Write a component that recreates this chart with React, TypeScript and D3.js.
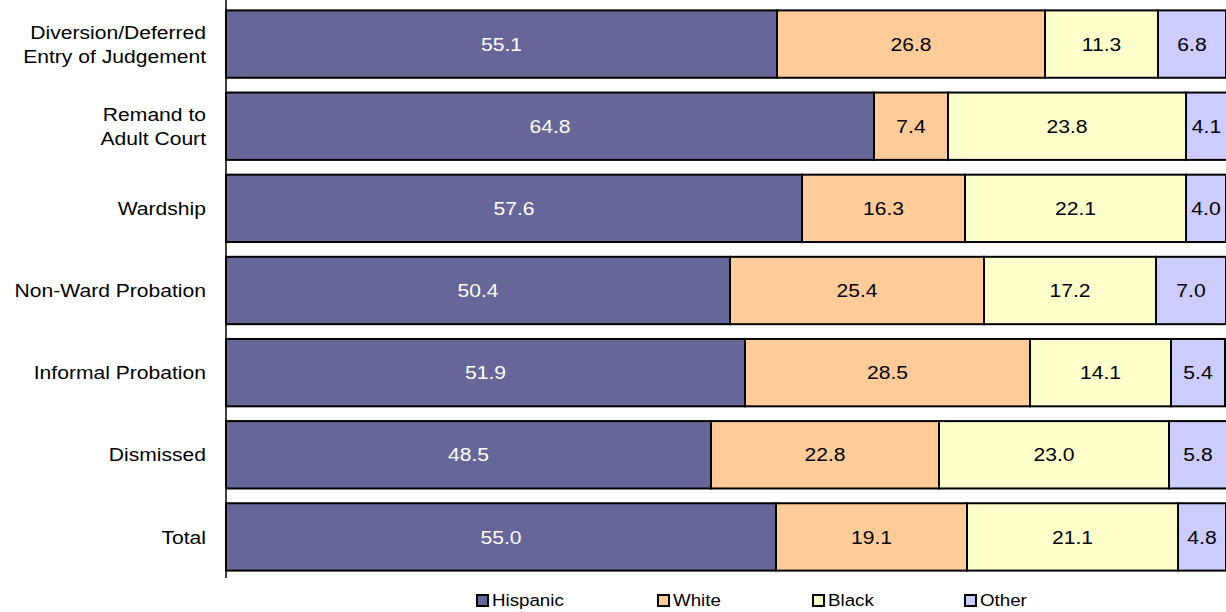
import React from "react";
import * as d3 from "d3";

// Share of dispositions by race/ethnicity (percent of each disposition)
const categories = [
  "Diversion/Deferred\nEntry of Judgement",
  "Remand to\nAdult Court",
  "Wardship",
  "Non-Ward Probation",
  "Informal Probation",
  "Dismissed",
  "Total",
];
const seriesNames = ["Hispanic", "White", "Black", "Other"];
const hispanic = [55.1, 64.8, 57.6, 50.4, 51.9, 48.5, 55.0];
const white = [26.8, 7.4, 16.3, 25.4, 28.5, 22.8, 19.1];
const black = [11.3, 23.8, 22.1, 17.2, 14.1, 23.0, 21.1];
const other = [6.8, 4.1, 4.0, 7.0, 5.4, 5.8, 4.8];

const seriesColors = ["#666699", "#FFCC99", "#FFFFCC", "#CCCCFF"];
const labelColors = ["#ffffff", "#000000", "#000000", "#000000"];

const W = 1226;
const H = 612;
const plotLeft = 226;
const plotRight = 1226;
const plotTop = 3;
const plotBottom = 578;

const FONT = "Arial, 'Liberation Sans', Helvetica, sans-serif";
const labelSize = 18.5;
const labelStretch = 1.14;
const legendSize = 16.3;
const legendStretch = 1.15;
const legendX = [476, 657, 812, 964];
const legendY = 594;

export default function App() {
  const rows = categories.map((c, i) => ({
    cat: c,
    Hispanic: hispanic[i],
    White: white[i],
    Black: black[i],
    Other: other[i],
  }));

  const stack = d3.stack<any>().keys(seriesNames);
  const layers = stack(rows);

  const x = d3.scaleLinear().domain([0, 100]).range([plotLeft, plotRight]);
  const y = d3
    .scaleBand<string>()
    .domain(categories)
    .range([plotTop, plotBottom])
    .paddingInner(0.18)
    .paddingOuter(0.09);

  const capShift = (0.716 * labelSize) / 2;

  return (
    <svg
      width={W}
      height={H}
      style={{ position: "absolute", left: 0, top: 0, background: "#fff" }}
      fontFamily={FONT}
    >
      {/* stacked bars */}
      {layers.map((layer, si) => (
        <g key={seriesNames[si]}>
          {layer.map((d, i) => {
            const x0 = x(d[0]);
            const x1 = x(d[1]);
            const yy = y(categories[i])!;
            const bh = y.bandwidth();
            const value = rows[i][seriesNames[si] as "Hispanic"];
            return (
              <g key={i}>
                <rect
                  x={x0}
                  y={yy}
                  width={x1 - x0}
                  height={bh}
                  fill={seriesColors[si]}
                  stroke="#000"
                  strokeWidth={2}
                />
                <text
                  transform={`translate(${(x0 + x1) / 2},${yy + bh / 2 + capShift}) scale(${labelStretch},1)`}
                  textAnchor="middle"
                  fontSize={labelSize}
                  fill={labelColors[si]}
                >
                  {value.toFixed(1)}
                </text>
              </g>
            );
          })}
        </g>
      ))}

      {/* category axis */}
      <line x1={plotLeft} x2={plotLeft} y1={0} y2={plotBottom} stroke="#000" strokeWidth={1.5} />
      {categories.map((c) => {
        const lines = c.split("\n");
        const cy = y(c)! + y.bandwidth() / 2;
        const lh = 24;
        return (
          <g key={c}>
            {lines.map((ln, li) => {
              const by = cy + capShift + (li - (lines.length - 1) / 2) * lh;
              return (
                <text
                  key={li}
                  transform={`translate(206,${by}) scale(${labelStretch},1)`}
                  textAnchor="end"
                  fontSize={labelSize}
                  fill="#000"
                >
                  {ln}
                </text>
              );
            })}
          </g>
        );
      })}

      {/* legend */}
      {seriesNames.map((name, si) => (
        <g key={name}>
          <rect
            x={legendX[si] + 1}
            y={legendY + 1}
            width={11}
            height={11}
            fill={seriesColors[si]}
            stroke="#000"
            strokeWidth={2}
          />
          <text
            transform={`translate(${legendX[si] + 16},${legendY + 11.5}) scale(${legendStretch},1)`}
            fontSize={legendSize}
            fill="#000"
          >
            {name}
          </text>
        </g>
      ))}
    </svg>
  );
}
